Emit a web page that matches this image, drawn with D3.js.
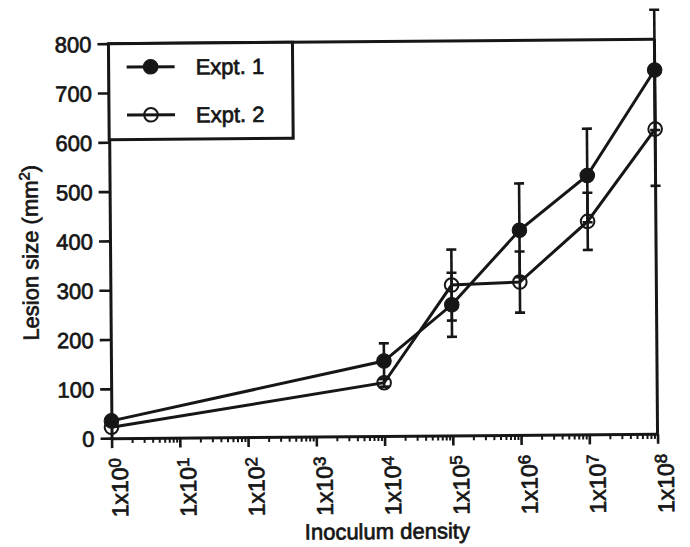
<!DOCTYPE html>
<html>
<head>
<meta charset="utf-8">
<script src="https://cdnjs.cloudflare.com/ajax/libs/d3/7.8.5/d3.min.js"></script>
<style>
  body { margin: 0; background: #fff; }
  text { font-family: "Liberation Sans", Arial, Helvetica, sans-serif; fill: #161616; stroke: #161616; stroke-width: 0.7px; }
</style>
</head>
<body>
<svg width="690" height="547"></svg>
<script>
// inoculum doses (cells) and mean lesion size with error (mm2)
var doses = [1, 1e4, 1e5, 1e6, 1e7, 1e8];
var expt1 = [35, 152, 265, 415, 525, 738];
var expt1Err = [0, 36, 65, 95, 95, 122];
var expt2 = [22, 108, 305, 310, 432, 618];
var expt2Err = [0, 8, 72, 62, 58, 115];

var decades = [0, 1, 2, 3, 4, 5, 6, 7, 8];
var yTicks = [0, 100, 200, 300, 400, 500, 600, 700, 800];
var seriesNames = ["Expt. 1", "Expt. 2"];

var svg = d3.select("svg"),
    ink = "#161616";

// the scanned figure is slightly tilted
var g = svg.append("g").attr("transform", "rotate(-0.45,383,240)");

var x = d3.scaleLog().domain([1, 1e8]).range([110, 656]);
var y = d3.scaleLinear().domain([0, 800]).range([436, 41.5]);

// y axis
var yAxis = g.append("g")
    .attr("transform", "translate(" + x.range()[0] + ",0)")
    .call(d3.axisLeft(y).tickValues(yTicks).tickSize(11).tickSizeOuter(0).tickPadding(6));
yAxis.select(".domain").attr("stroke", ink).attr("stroke-width", 3);
yAxis.selectAll(".tick line").attr("stroke", ink).attr("stroke-width", 2.6);
yAxis.selectAll(".tick text").attr("font-size", 22).attr("font-family", null).attr("dy", "0.36em");

// x axis: major decades and minor ticks
var minor = [];
decades.slice(0, -1).forEach(function(k) {
  for (var m = 2; m < 10; m++) minor.push(m * Math.pow(10, k));
});
var majors = decades.map(function(k) { return Math.pow(10, k); });

var xAxis = g.append("g")
    .attr("transform", "translate(0," + y(0) + ")")
    .call(d3.axisBottom(x).tickValues(majors).tickSize(10).tickSizeOuter(0).tickFormat(""));
xAxis.select(".domain").attr("stroke", ink).attr("stroke-width", 3);
xAxis.selectAll(".tick line").attr("stroke", ink).attr("stroke-width", 2.6);

var xMinor = g.append("g")
    .attr("transform", "translate(0," + y(0) + ")")
    .call(d3.axisBottom(x).tickValues(minor).tickSize(5).tickFormat(""));
xMinor.select(".domain").remove();
xMinor.selectAll(".tick line").attr("stroke", ink).attr("stroke-width", 2);

// rotated tick labels 1x10^k
decades.forEach(function(k) {
  var t = g.append("text")
      .attr("transform", "translate(" + (x(Math.pow(10, k)) + 16) + "," + (y(0) + 20) + ") rotate(-90)")
      .attr("text-anchor", "end")
      .attr("font-size", 23)
      .text("1x10");
  t.append("tspan").attr("font-size", 17).attr("dy", -7).text(k);
});

// frame top and right
g.append("line")
    .attr("x1", x(1)).attr("x2", x(1e8))
    .attr("y1", y(800)).attr("y2", y(800))
    .attr("stroke", ink).attr("stroke-width", 3);
g.append("line")
    .attr("x1", x(1e8)).attr("x2", x(1e8))
    .attr("y1", y(800)).attr("y2", y(0))
    .attr("stroke", ink).attr("stroke-width", 3);

// axis titles
var yt = g.append("text")
    .attr("transform", "translate(38,250) rotate(-90)")
    .attr("text-anchor", "middle")
    .attr("font-size", 22)
    .text("Lesion size (mm");
yt.append("tspan").attr("font-size", 15).attr("dy", -8).text("2");
yt.append("tspan").attr("dy", 8).text(")");

g.append("text")
    .attr("x", 385).attr("y", 539)
    .attr("text-anchor", "middle")
    .attr("font-size", 22)
    .text("Inoculum density");

// data
var series = [
  { name: seriesNames[0], vals: expt1, errs: expt1Err, filled: true },
  { name: seriesNames[1], vals: expt2, errs: expt2Err, filled: false }
];

var line = d3.line()
    .x(function(d) { return x(d.dose); })
    .y(function(d) { return y(d.v); });

series.forEach(function(s) {
  s.pts = doses.map(function(d, i) { return { dose: d, v: s.vals[i], e: s.errs[i] }; });
  g.append("path")
      .datum(s.pts)
      .attr("fill", "none")
      .attr("stroke", ink)
      .attr("stroke-width", 3)
      .attr("d", line);
});

// error bars
series.forEach(function(s) {
  var eb = g.append("g").attr("stroke", ink).attr("stroke-width", 2.6);
  s.pts.filter(function(p) { return p.e > 0; }).forEach(function(p) {
    var cx = x(p.dose);
    eb.append("line").attr("x1", cx).attr("x2", cx).attr("y1", y(p.v - p.e)).attr("y2", y(p.v + p.e));
    [p.v - p.e, p.v + p.e].forEach(function(v) {
      eb.append("line").attr("x1", cx - 5).attr("x2", cx + 5).attr("y1", y(v)).attr("y2", y(v));
    });
  });
});

// markers
series.forEach(function(s) {
  g.append("g").selectAll("circle")
    .data(s.pts)
    .enter().append("circle")
      .attr("cx", function(d) { return x(d.dose); })
      .attr("cy", function(d) { return y(d.v); })
      .attr("r", s.filled ? 7.3 : 6.8)
      .attr("fill", s.filled ? ink : "none")
      .attr("stroke", ink)
      .attr("stroke-width", s.filled ? 1 : 2);
});

// legend
var leg = g.append("g");
leg.append("rect")
    .attr("x", x(1)).attr("y", y(800))
    .attr("width", 184).attr("height", 96)
    .attr("fill", "#fff")
    .attr("stroke", ink).attr("stroke-width", 3);

series.forEach(function(s, i) {
  var ly = 65 + i * 48;
  leg.append("line")
      .attr("x1", 128).attr("x2", 176)
      .attr("y1", ly).attr("y2", ly)
      .attr("stroke", ink).attr("stroke-width", 3);
  leg.append("circle")
      .attr("cx", 152).attr("cy", ly)
      .attr("r", s.filled ? 7.3 : 6.8)
      .attr("fill", s.filled ? ink : "none")
      .attr("stroke", ink)
      .attr("stroke-width", s.filled ? 1 : 2);
  leg.append("text")
      .attr("x", 197).attr("y", ly + 8)
      .attr("font-size", 22)
      .text(s.name);
});
</script>
</body>
</html>
